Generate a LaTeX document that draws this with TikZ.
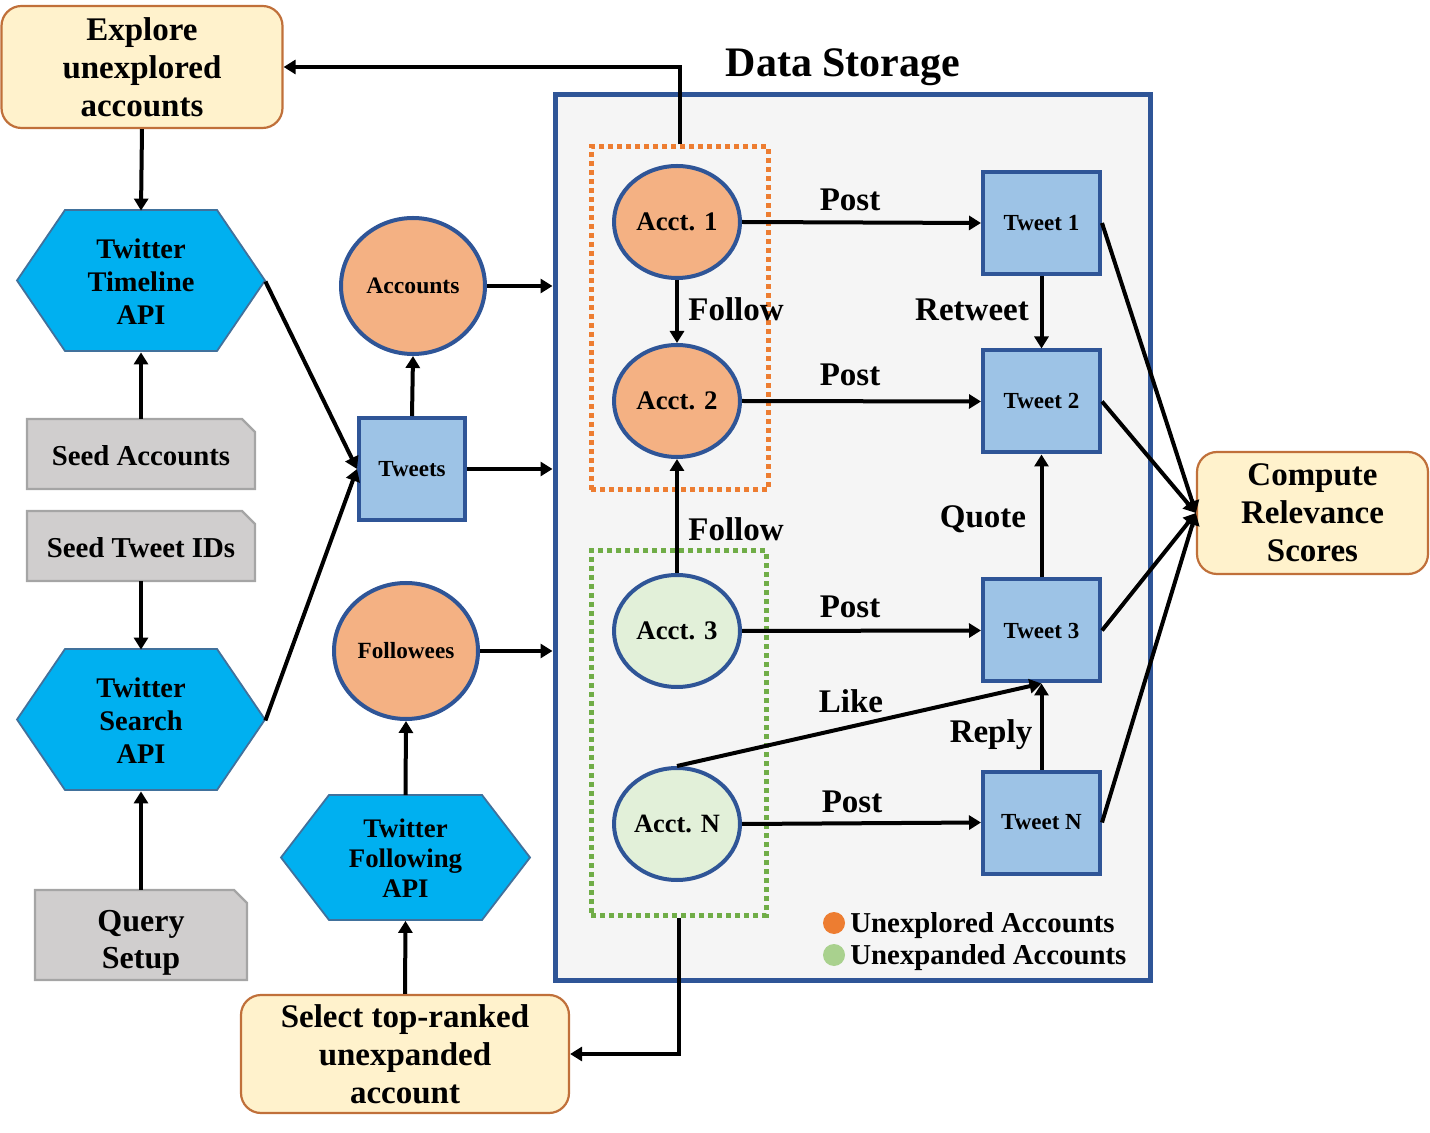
\documentclass[tikz,border=0pt]{standalone}
\usepackage{fontspec}
\setmainfont{Liberation Serif}
\usetikzlibrary{arrows.meta,shapes.geometric,calc}
\definecolor{yfill}{HTML}{FFF2CC}
\definecolor{ybord}{HTML}{C0703A}
\definecolor{hexfill}{HTML}{00B0F0}
\definecolor{hexbord}{HTML}{41719C}
\definecolor{gfill}{HTML}{D0CECE}
\definecolor{gbord}{HTML}{A5A5A5}
\definecolor{ofill}{HTML}{F4B183}
\definecolor{nbord}{HTML}{2F5597}
\definecolor{tfill}{HTML}{9DC3E6}
\definecolor{grfill}{HTML}{E2F0D9}
\definecolor{dsfill}{HTML}{F5F5F5}
\definecolor{odot}{HTML}{ED7D31}
\definecolor{gdot}{HTML}{70AD47}
\definecolor{glegend}{HTML}{A9D18E}
\begin{document}
\begin{tikzpicture}[x=0.5pt,y=-0.5pt,
  arr/.style={line width=2pt,-{Triangle[length=6pt,width=7pt]}},
  yellowbox/.style={draw=ybord,fill=yfill,line width=1.1pt,rounded corners=10pt,align=center,inner sep=0pt,font=\bfseries\fontsize{16.5}{19}\selectfont},
  hexshape/.style={draw=hexbord,fill=hexfill,line width=0.9pt},
  hextext/.style={align=center,inner sep=0pt,font=\bfseries\fontsize{14.2}{16.5}\selectfont},
  grayshape/.style={draw=gbord,fill=gfill,line width=1.1pt},
  graytext/.style={align=center,inner sep=0pt,font=\bfseries\fontsize{14.4}{17}\selectfont},
  oval/.style={ellipse,draw=nbord,line width=2pt,inner sep=0pt},
  tweetbox/.style={rectangle,draw=nbord,fill=tfill,line width=2pt,inner sep=0pt,minimum width=58.5pt,minimum height=51pt,font=\bfseries\fontsize{11.5}{13}\selectfont},
  dotbox/.style={line width=2.5pt,dash pattern=on 2.5pt off 2pt,minimum width=88.5pt,inner sep=0pt},
  elabel/.style={inner sep=0pt,font=\bfseries\fontsize{16.5}{19}\selectfont},
  legendtext/.style={anchor=west,inner sep=0pt,font=\bfseries\fontsize{14.4}{16}\selectfont}
]
\path[use as bounding box] (0,0) rectangle (1430,1133);

% Data storage
\node[draw=nbord,fill=dsfill,line width=2.5pt,minimum width=297.5pt,minimum height=442.5pt,inner sep=0pt] (ds) at (852.5,537.5) {};
\node[inner sep=0pt,font=\bfseries\fontsize{21}{24}\selectfont] (dstitle) at (843,67) {Data Storage};
\node[dotbox,draw=odot,minimum height=171.5pt] (ob) at (679.5,318.5) {};
\node[dotbox,draw=gdot,minimum width=87.5pt,minimum height=182pt] (gb) at (678.5,733) {};

% yellow boxes
\node[yellowbox,minimum width=140.5pt,minimum height=61pt] (explore) at (142,67) {Explore\\unexplored\\accounts};
\node[yellowbox,minimum width=115.5pt,minimum height=61pt] (compute) at (1312.5,513) {Compute\\Relevance\\Scores};
\node[yellowbox,minimum width=164pt,minimum height=59pt] (select) at (405,1054) {Select top-ranked\\unexpanded\\account};

% hexagons
\foreach \cx/\cy/\hw/\hh in {141/280.5/124/70.5, 141/719.5/124/70.5, 405.5/857.5/124.5/62.5}
  \draw[hexshape] (\cx-\hw,\cy) -- (\cx-\hw+48,\cy-\hh) -- (\cx+\hw-48,\cy-\hh) -- (\cx+\hw,\cy) -- (\cx+\hw-48,\cy+\hh) -- (\cx-\hw+48,\cy+\hh) -- cycle;
\node[hextext,minimum width=124pt,minimum height=70.5pt] (tl) at (141,281.5) {Twitter\\Timeline\\API};
\node[hextext,minimum width=124pt,minimum height=70.5pt] (sr) at (141,720.5) {Twitter\\Search\\API};
\node[hextext,minimum width=124.5pt,minimum height=62.5pt,font=\bfseries\fontsize{13.4}{15}\selectfont] (fw) at (405.5,858) {Twitter\\Following\\API};

% gray boxes
\foreach \xa/\ya/\xb/\yb in {27/419/255/489, 27/511/255/581, 35/890/247/980}
  \draw[grayshape] (\xa,\ya) -- (\xb-13,\ya) -- (\xb,\ya+13) -- (\xb,\yb) -- (\xa,\yb) -- cycle;
\node[graytext,minimum width=114pt,minimum height=37pt] (sa) at (141,456) {Seed Accounts};
\node[graytext,minimum width=114pt,minimum height=33pt] (st) at (141,548) {Seed Tweet IDs};
\node[graytext,minimum width=106pt,minimum height=53pt,font=\bfseries\fontsize{16}{18.5}\selectfont] (qs) at (141,943) {Query\\Setup};

% middle column
\node[tweetbox,minimum width=53pt,minimum height=51pt] (tw) at (412,469) {Tweets};
\node[oval,fill=ofill,minimum width=72pt,minimum height=68pt,font=\bfseries\fontsize{11.8}{13}\selectfont] (acc) at (413,286) {Accounts};
\node[oval,fill=ofill,minimum width=72pt,minimum height=68pt,font=\bfseries\fontsize{11.6}{13}\selectfont] (fol) at (406,651) {Followees};

% accounts
\node[oval,fill=ofill,minimum width=63pt,minimum height=56pt,font=\bfseries\fontsize{13.4}{15}\selectfont] (a1) at (677,222) {Acct. 1};
\node[oval,fill=ofill,minimum width=63pt,minimum height=56pt,font=\bfseries\fontsize{13.4}{15}\selectfont] (a2) at (677,401) {Acct. 2};
\node[oval,fill=grfill,minimum width=63pt,minimum height=56pt,font=\bfseries\fontsize{13.4}{15}\selectfont] (a3) at (677,631) {Acct. 3};
\node[oval,fill=grfill,minimum width=63pt,minimum height=56pt,font=\bfseries\fontsize{13.2}{15}\selectfont] (an) at (677,824) {Acct. N};

% tweets
\node[tweetbox] (t1) at (1041.5,223) {Tweet 1};
\node[tweetbox] (t2) at (1041.5,401.5) {Tweet 2};
\node[tweetbox] (t3) at (1041.5,630.5) {Tweet 3};
\node[tweetbox] (tn) at (1041.5,822.5) {Tweet N};

% left column connectors
\draw[arr] (explore.south) -- (tl.north);
\draw[arr] (sa.north) -- (tl.south);
\draw[arr] (st.south) -- (sr.north);
\draw[arr] (qs.north) -- (sr.south);
\draw[arr] (tl.east) -- (tw.west);
\draw[arr] (sr.east) -- (tw.west);
\draw[arr] (tw.north) -- (acc.south);
\draw[arr] (acc.east) -- (acc.east -| ds.west);
\draw[arr] (tw.east) -- (tw.east -| ds.west);
\draw[arr] (fol.east) -- (fol.east -| ds.west);
\draw[arr] (select.north) -- (fw.south);
\draw[arr] (fw.north) -- (fol.south);
\draw[arr] (ob.north) |- (explore.east);
\draw[arr] (gb.south) |- (select.east);

% storage connectors
\draw[arr] (a1.south) -- (a2.north);
\draw[arr] (a3.north) -- (a2.south);
\draw[arr] (a1.east) -- (t1.west);
\draw[arr] (a2.east) -- (t2.west);
\draw[arr] (a3.east) -- (t3.west);
\draw[arr] (an.east) -- (tn.west);
\draw[arr] (t1.south) -- (t2.north);
\draw[arr] (t3.north) -- (t2.south);
\draw[arr] (tn.north) -- (t3.south);
\draw[arr] (an.north) -- (t3.south);

% to compute
\draw[arr] (t1.east) -- (compute.west);
\draw[arr] (t2.east) -- (compute.west);
\draw[arr] (t3.east) -- (compute.west);
\draw[arr] (tn.east) -- (compute.west);

% labels
\node[elabel] (lf1) at (736,309) {Follow};
\node[elabel] (lf2) at (736,529) {Follow};
\node[elabel] (lp1) at (850,200) {Post};
\node[elabel] (lp2) at (850,375) {Post};
\node[elabel] (lp3) at (850,607) {Post};
\node[elabel] (lpn) at (852,802) {Post};
\node[elabel] (lrt) at (972,310) {Retweet};
\node[elabel] (lq) at (983,519) {Quote};
\node[elabel] (lr) at (991,735) {Reply};
\node[elabel] (ll) at (851,701) {Like};

% legend
\node[circle,fill=odot,minimum size=11pt,inner sep=0pt] (lgo) at (834,923) {};
\node[circle,fill=glegend,minimum size=11pt,inner sep=0pt] (lgg) at (834,955) {};
\node[legendtext] (lgot) at (850,926) {Unexplored Accounts};
\node[legendtext] (lggt) at (850,958) {Unexpanded Accounts};
\end{tikzpicture}
\end{document}
